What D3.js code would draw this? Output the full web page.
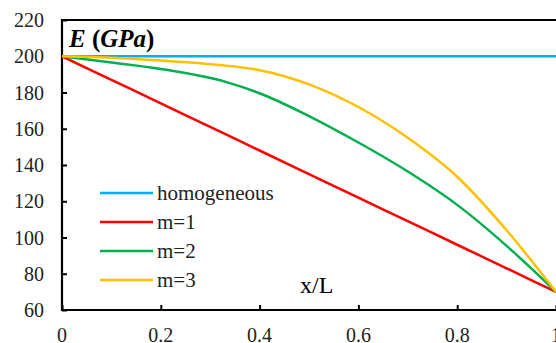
<!DOCTYPE html>
<html>
<head>
<meta charset="utf-8">
<script src="https://cdn.jsdelivr.net/npm/d3@7"></script>
<style>
  body { margin: 0; background: #fff; }
  svg { display: block; }
</style>
</head>
<body>
<div id="chart"></div>
<script>
// x/L positions and E values
var xs = [0, 0.1, 0.2, 0.333, 0.4, 0.5, 0.6, 0.7, 0.8, 0.9, 1.0];
var homogeneous = [200, 200, 200, 200, 200, 200, 200, 200, 200, 200, 200];
var m1 = [200, 187, 174, 156.7, 148, 135, 122, 109, 96, 83, 70];
var m2 = [200, 196.6, 193, 185.7, 179.6, 167, 152.4, 136.4, 118, 95.4, 70];
var m3 = [200, 199.2, 197.6, 194.8, 192.3, 184.5, 172, 155, 133.5, 104, 70];
var xTicks = [0, 0.2, 0.4, 0.6, 0.8, 1];
var yTicks = [60, 80, 100, 120, 140, 160, 180, 200, 220];

var series = [
  {name: "homogeneous", values: homogeneous, color: "#00B0F0"},
  {name: "m=1", values: m1, color: "#FF0000"},
  {name: "m=2", values: m2, color: "#00B050"},
  {name: "m=3", values: m3, color: "#FFC000"}
];

var W = 556, H = 343;
var pLeft = 62, pRight = 556, pTop = 20, pBottom = 310;
var font = "'Liberation Serif', 'Times New Roman', serif";

var svg = d3.select("#chart").append("svg")
  .attr("width", W)
  .attr("height", H)
  .attr("font-family", font);

var x = d3.scaleLinear().domain([0, 1]).range([pLeft, pRight]);
var y = d3.scaleLinear().domain([60, 220]).range([pBottom, pTop]);

// y axis, ticks pointing inward
var yAxis = svg.append("g")
  .attr("transform", "translate(" + pLeft + ",0)")
  .call(d3.axisRight(y).tickValues(yTicks).tickSize(5).tickFormat(""));
yAxis.select(".domain").attr("stroke-width", 2.2).attr("d", "M0," + (pTop - 1) + "V" + (pBottom + 1));
yAxis.selectAll(".tick line").attr("stroke-width", 2);

// x axis, ticks pointing up
var xAxis = svg.append("g")
  .attr("transform", "translate(0," + pBottom + ")")
  .call(d3.axisTop(x).tickValues(xTicks).tickSize(5).tickFormat(""));
xAxis.select(".domain").attr("stroke-width", 2.2).attr("d", "M" + (pLeft - 1) + ",0H" + pRight);
xAxis.selectAll(".tick line").attr("stroke-width", 2);

// top border
svg.append("line")
  .attr("x1", pLeft - 1).attr("x2", pRight)
  .attr("y1", pTop).attr("y2", pTop)
  .attr("stroke", "#000").attr("stroke-width", 2.2);

// tick labels
svg.append("g").selectAll("text")
  .data(yTicks)
  .enter().append("text")
  .attr("x", 44)
  .attr("y", function(d) { return y(d) + 7; })
  .attr("text-anchor", "end")
  .attr("font-family", font)
  .attr("font-size", 20)
  .attr("fill", "#222")
  .text(function(d) { return d; });

svg.append("g").selectAll("text")
  .data(xTicks)
  .enter().append("text")
  .attr("x", function(d) { return x(d); })
  .attr("y", 342)
  .attr("text-anchor", "middle")
  .attr("font-family", font)
  .attr("font-size", 20)
  .attr("fill", "#222")
  .text(function(d) { return d; });

// curves
var line = d3.line()
  .x(function(d) { return x(d[0]); })
  .y(function(d) { return y(d[1]); })
  .curve(d3.curveMonotoneX);

svg.append("g").selectAll("path")
  .data(series)
  .enter().append("path")
  .attr("d", function(s) { return line(xs.map(function(v, i) { return [v, s.values[i]]; })); })
  .attr("fill", "none")
  .attr("stroke", function(s) { return s.color; })
  .attr("stroke-width", 2.5);

// title
var t = svg.append("text")
  .attr("x", 69).attr("y", 47)
  .attr("font-family", font)
  .attr("font-size", 25)
  .attr("font-weight", "bold");
t.append("tspan").attr("font-style", "italic").text("E");
t.append("tspan").text(" (");
t.append("tspan").attr("font-style", "italic").text("GPa");
t.append("tspan").text(")");

svg.append("text")
  .attr("x", 300).attr("y", 293)
  .attr("font-family", font)
  .attr("font-size", 24)
  .text("x/L");

// legend
var leg = svg.append("g").selectAll("g")
  .data(series)
  .enter().append("g")
  .attr("transform", function(d, i) { return "translate(100," + (193 + i * 29) + ")"; });
leg.append("line")
  .attr("x1", 0).attr("x2", 53)
  .attr("stroke", function(d) { return d.color; })
  .attr("stroke-width", 2.5);
leg.append("text")
  .attr("x", 57).attr("y", 7)
  .attr("font-family", font)
  .attr("font-size", 21)
  .attr("fill", "#222")
  .text(function(d) { return d.name; });
</script>
</body>
</html>
